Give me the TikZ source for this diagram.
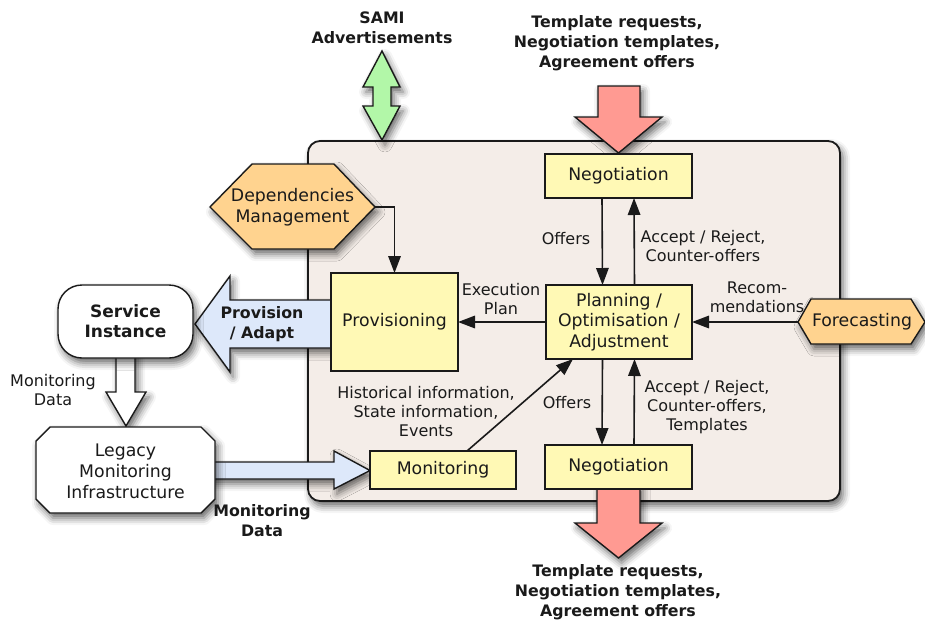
\documentclass[tikz,border=0pt]{standalone}
\usepackage{fontspec}
\setmainfont{DejaVu Sans}
\usetikzlibrary{arrows.meta,shadows.blur}
\definecolor{cfill}{HTML}{F4EDE8}
\definecolor{yel}{HTML}{FFF9B5}
\definecolor{ora}{HTML}{FFD38F}
\definecolor{grn}{HTML}{B2F7A8}
\definecolor{redf}{HTML}{FF9A92}
\definecolor{blu}{HTML}{DDE8FA}
\definecolor{ink}{HTML}{1A1A1A}
\tikzset{
  shad/.style={blur shadow={shadow xshift=3pt,shadow yshift=-5pt,shadow blur radius=7pt,shadow opacity=60}},
  yelbox/.style={draw=ink,line width=1.4pt,fill=yel,inner sep=0pt,outer sep=0pt,align=center,font=\fontsize{17.3}{20.5}\selectfont,text=ink},
  bigarrow/.style={draw=ink,line width=1.4pt,line join=miter,shad},
  shapeline/.style={draw=ink,line width=1.4pt,line join=miter,shad},
  conn/.style={draw=ink,line width=1.6pt,-{Triangle[length=17pt,width=12.5pt]}},
  lbl/.style={align=center,inner sep=0pt,font=\fontsize{16}{19}\selectfont,text=ink},
  blbl/.style={align=center,inner sep=0pt,font=\bfseries\fontsize{15.8}{20}\selectfont,text=ink},
  intext/.style={align=center,inner sep=0pt,font=\fontsize{17.3}{20.5}\selectfont,text=ink},
}
\begin{document}
\begin{tikzpicture}[x=1pt,y=-1pt]
\useasboundingbox (0,0) rectangle (925,622);
% container
\node[draw=ink,line width=1.8pt,fill=cfill,rounded corners=12pt,minimum width=532pt,minimum height=360pt,inner sep=0pt,outer sep=0pt,shad] (core) at (574,321) {};
% big arrows
\path[bigarrow,fill=grn] (382,51) -- (400,87) -- (391,87) -- (391,106) -- (400,106) -- (382,140) -- (363,106) -- (373,106) -- (373,87) -- (363,87) -- cycle;
\path[bigarrow,fill=redf] (598,86) -- (640,86) -- (640,117) -- (662,117) -- (618.5,153) -- (575,117) -- (598,117) -- cycle;
\path[bigarrow,fill=redf] (597,485) -- (640,485) -- (640,523) -- (662,523) -- (618.5,558) -- (575,523) -- (597,523) -- cycle;
\path[bigarrow,fill=blu] (195,324) -- (230,276) -- (230,300) -- (340,300) -- (340,348) -- (230,348) -- (230,372) -- cycle;
\path[bigarrow,fill=white] (116,352) -- (135,352) -- (135,392) -- (146,392) -- (126,426) -- (106,392) -- (116,392) -- cycle;
\path[bigarrow,fill=blu] (205,462) -- (334,462) -- (334,451) -- (370,470.5) -- (334,489) -- (334,479) -- (205,479) -- cycle;
% yellow boxes
\node[yelbox,minimum width=147pt,minimum height=44pt] (neg1) at (618.5,176) {Negotiation};
\node[yelbox,minimum width=146pt,minimum height=74pt] (plan) at (619,322) {Planning /\\Optimisation /\\Adjustment};
\node[yelbox,minimum width=147pt,minimum height=44pt] (neg2) at (618.5,467) {Negotiation};
\node[yelbox,minimum width=127pt,minimum height=98pt] (prov) at (394.5,322) {Provisioning};
\node[yelbox,minimum width=146pt,minimum height=38pt] (mon) at (443,470) {Monitoring};
% hexagons and octagon
\path[shapeline,fill=ora] (210,207) -- (252,164) -- (334,164) -- (375,207) -- (334,249) -- (252,249) -- cycle;
\node[intext] (dep) at (292.5,207) {Dependencies\\Management};
\coordinate (depE) at (375,207);
\path[shapeline,fill=ora] (798,322) -- (811,299) -- (911,299) -- (925,322) -- (911,344) -- (811,344) -- cycle;
\node[intext] (fore) at (862,321.5) {Forecasting};
\coordinate (foreW) at (798,322);
\node[draw=ink,line width=1.4pt,fill=white,rounded corners=24pt,minimum width=135pt,minimum height=73pt,inner sep=0pt,outer sep=0pt,align=center,font=\bfseries\fontsize{17}{20}\selectfont,text=ink,shad] (serv) at (125.5,321.5) {Service\\Instance};
\path[shapeline,fill=white] (50,427) -- (201,427) -- (215,441) -- (215,499) -- (201,513) -- (50,513) -- (36,499) -- (36,441) -- cycle;
\node[intext,font=\fontsize{17.3}{21}\selectfont] (leg) at (125.5,471) {Legacy\\Monitoring\\Infrastructure};
% connectors
\draw[conn] (depE) -| (prov.north);
\draw[conn] ([xshift=-16.5pt]neg1.south) -- ([xshift=-16.5pt]plan.north);
\draw[conn] ([xshift=15.5pt]plan.north) -- ([xshift=15.5pt]neg1.south);
\draw[conn] (plan.west) -- (prov.east);
\draw[conn] (foreW) -- (plan.east);
\draw[conn] ([xshift=-16.5pt]plan.south) -- ([xshift=-16.5pt]neg2.north);
\draw[conn] ([xshift=15.5pt]neg2.north) -- ([xshift=15.5pt]plan.south);
\draw[conn] ([xshift=24pt]mon.north) -- ([xshift=27pt]plan.south west);
% labels
\node[blbl] (tsami) at (382,27.5) {SAMI\\Advertisements};
\node[blbl] (ttop) at (617,43) {Template requests,\\Negotiation templates,\\Agreement offers};
\node[blbl] (tbot) at (618,592) {Template requests,\\Negotiation templates,\\Agreement offers};
\node[lbl] (loff1) at (566,239) {Offers};
\node[lbl] (lacc1) at (703,246.5) {Accept / Reject,\\Counter-offers};
\node[lbl] (lexe) at (501,299) {Execution\\Plan};
\node[lbl] (lrec) at (757,297.5) {Recom-\\mendations};
\node[lbl] (lhist) at (426,412) {Historical information,\\State information,\\Events};
\node[lbl] (loff2) at (567,403) {Offers};
\node[lbl] (lacc2) at (707,407) {Accept / Reject,\\Counter-offers,\\Templates};
\node[lbl] (lmd1) at (53,390) {Monitoring\\Data};
\node[blbl] (lprov) at (262,324) {Provision\\/ Adapt};
\node[blbl] (lmd2) at (262,521) {Monitoring\\Data};
\end{tikzpicture}
\end{document}
